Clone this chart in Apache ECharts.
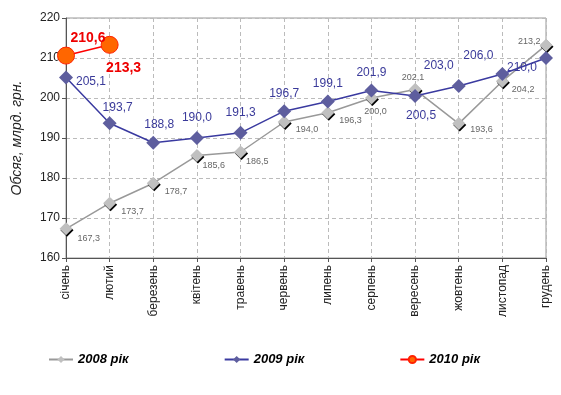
<!DOCTYPE html>
<html><head><meta charset="utf-8">
<script src="https://cdn.jsdelivr.net/npm/echarts@6/dist/echarts.min.js"></script>
<style>html,body{margin:0;padding:0;background:#fff}#c{width:561px;height:395px}</style>
</head><body><div id="c"></div>
<script>
var months = ['січень','лютий','березень','квітень','травень','червень','липень','серпень','вересень','жовтень','листопад','грудень'];
var y2008 = [167.3,173.7,178.7,185.6,186.5,194.0,196.3,200.0,202.1,193.6,204.2,213.2];
var y2009 = [205.1,193.7,188.8,190.0,191.3,196.7,199.1,201.9,200.5,203.0,206.0,210.0];
var y2010 = [210.6,213.3];
var yTicks = [160,170,180,190,200,210,220];

var FONT = '"Liberation Sans",Arial,sans-serif';
function fmt(p){ return p.value.toFixed(1).replace('.', ','); }

var pos2009 = [
  {position:'right', offset:[-2,4]},
  {position:'top', offset:[8,2]},
  {position:'top', offset:[6,0]},
  {position:'top', offset:[0,-2]},
  {position:'top', offset:[0,-2]},
  {position:'top', offset:[0,0]},
  {position:'top', offset:[0,0]},
  {position:'top', offset:[0,0]},
  {position:'bottom', offset:[6,2]},
  {position:'top', offset:[-20,-2]},
  {position:'top', offset:[-24,0]},
  {position:'bottom', offset:[-24,-8]}
];
var pos2008 = [
  {position:'right', offset:[0,10]},
  {position:'right', offset:[0,8]},
  {position:'right', offset:[0,8]},
  {position:'right', offset:[-6,10]},
  {position:'right', offset:[-6,10]},
  {position:'right', offset:[0,8]},
  {position:'right', offset:[0,8]},
  {position:'bottom', offset:[4,-2]},
  {position:'top', offset:[-2,4]},
  {position:'right', offset:[0,6]},
  {position:'right', offset:[-2,8]},
  {position:'left', offset:[6,-4]}
];
var pos2010 = [
  {position:'top', offset:[22,4]},
  {position:'bottom', offset:[14,2]}
];

var d2008 = y2008.map(function(v,i){ return {value:v, label:pos2008[i]}; });
var d2009 = y2009.map(function(v,i){ return {value:v, label:pos2009[i]}; });
var d2010 = y2010.map(function(v,i){ return {value:v, label:pos2010[i]}; });

var chart = echarts.init(document.getElementById('c'));
chart.setOption({
  animation:false,
  backgroundColor:'#fff',
  textStyle:{fontFamily:FONT},
  grid:{left:66, right:15, top:18, bottom:137, show:true, borderColor:'#999', borderWidth:1},
  legend:{
    left:43, top:348, itemGap:95, itemWidth:24, itemHeight:9,
    textStyle:{fontFamily:FONT, fontSize:13, fontStyle:'italic', fontWeight:'bold', color:'#000'},
    data:['2008 рік','2009 рік','2010 рік']
  },
  xAxis:{
    type:'category', data:months, boundaryGap:false,
    axisLine:{lineStyle:{color:'#555', width:1}},
    axisTick:{show:true, length:4, lineStyle:{color:'#555'}},
    axisLabel:{rotate:90, color:'#222', fontSize:12, margin:7, fontFamily:FONT},
    splitLine:{show:true, lineStyle:{color:'#bbb', type:[4,3], width:1}}
  },
  yAxis:{
    type:'value', min:yTicks[0], max:yTicks[yTicks.length-1], interval:10,
    name:'Обсяг, млрд. грн.', nameLocation:'middle', nameGap:42, nameRotate:90,
    nameTextStyle:{fontSize:14, fontStyle:'italic', color:'#222', fontFamily:FONT},
    axisLine:{show:true, lineStyle:{color:'#555', width:1}},
    axisTick:{show:true, length:4, lineStyle:{color:'#555'}},
    axisLabel:{color:'#222', fontSize:12, margin:6, fontFamily:FONT},
    splitLine:{show:true, lineStyle:{color:'#bbb', type:[4,3], width:1}}
  },
  series:[
    {
      name:'2008 рік', type:'line', data:d2008,
      symbol:'diamond', symbolSize:13,
      lineStyle:{color:'#999', width:1.5},
      itemStyle:{color:'#c0c0c0', shadowColor:'#000', shadowOffsetX:1, shadowOffsetY:1.5, shadowBlur:0},
      label:{show:true, formatter:fmt, color:'#666', fontSize:9, fontFamily:FONT},
      z:2
    },
    {
      name:'2009 рік', type:'line', data:d2009,
      symbol:'diamond', symbolSize:14,
      lineStyle:{color:'#3a3aa0', width:1.5},
      itemStyle:{color:'#5e5e9e'},
      label:{show:true, formatter:fmt, color:'#3a3a9a', fontSize:12, fontFamily:FONT},
      z:3
    },
    {
      name:'2010 рік', type:'line', data:d2010,
      symbol:'circle', symbolSize:17,
      lineStyle:{color:'#ff0000', width:1.5},
      itemStyle:{color:'#ff6600', borderColor:'#ff2200', borderWidth:1},
      label:{show:true, formatter:fmt, color:'#ee0000', fontSize:14, fontWeight:'bold', fontFamily:FONT},
      z:4
    }
  ]
});
</script>
</body></html>
